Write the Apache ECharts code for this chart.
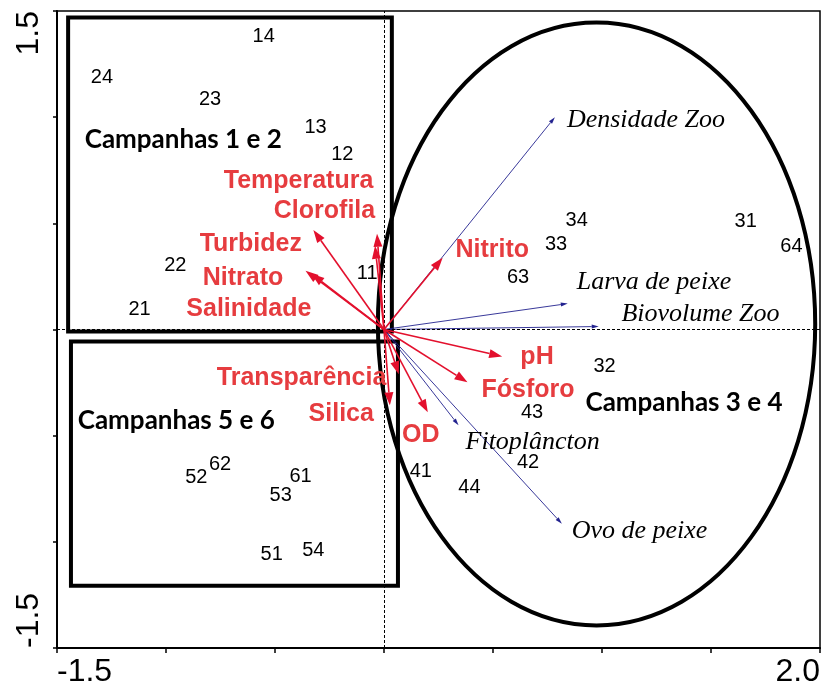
<!DOCTYPE html>
<html>
<head>
<meta charset="utf-8">
<script src="https://cdn.jsdelivr.net/npm/echarts@6/dist/echarts.min.js"></script>
<style>
html, body { margin: 0; padding: 0; background: #fff; }
#main { width: 823px; height: 688px; }
</style>
</head>
<body>
<div id="main"></div>
<script>
// amostras (scores)
var sampleNames = ['14', '24', '23', '13', '12', '22', '21', '11',
  '34', '31', '33', '64', '63', '32', '43', '42', '41', '44',
  '62', '52', '61', '53', '51', '54'];
var sampleX = [-0.552, -1.294, -0.798, -0.314, -0.191, -0.957, -1.121, -0.077,
  0.884, 1.659, 0.789, 1.869, 0.615, 1.012, 0.679, 0.661, 0.169, 0.392,
  -0.752, -0.861, -0.383, -0.474, -0.515, -0.324];
var sampleY = [1.380, 1.188, 1.085, 0.953, 0.822, 0.300, 0.094, 0.263,
  0.512, 0.507, 0.399, 0.390, 0.244, -0.174, -0.390, -0.624, -0.671, -0.746,
  -0.634, -0.695, -0.690, -0.784, -1.061, -1.042];

// variaveis ambientais (setas vermelhas)
var envNames = ['Turbidez', 'Temperatura', 'Clorofila', 'Nitrato', 'Salinidade', 'Nitrito',
  'pH', 'Fósforo', 'OD', 'Silica', 'Transparência'];
var envX = [-0.324, -0.032, -0.041, -0.360, -0.333, 0.269, 0.542, 0.383, 0.201, 0.027, 0.068];
var envY = [0.469, 0.451, 0.394, 0.277, 0.263, 0.338, -0.127, -0.249, -0.390, -0.357, -0.211];
var envLabelX = [-0.611, -0.392, -0.273, -0.647, -0.620, 0.497, 0.702, 0.661, 0.169, -0.196, -0.378];
var envLabelY = [0.404, 0.700, 0.559, 0.244, 0.094, 0.376, -0.131, -0.286, -0.498, -0.399, -0.230];

// variaveis biologicas (setas azuis)
var sppNames = ['Densidade Zoo', 'Larva de peixe', 'Biovolume Zoo', 'Fitoplâncton', 'Ovo de peixe'];
var sppX = [0.784, 0.843, 0.985, 0.342, 0.816];
var sppY = [1.000, 0.122, 0.014, -0.451, -0.915];
var sppLabelX = [0.839, 0.884, 1.089, 0.374, 0.861];
var sppLabelY = [0.986, 0.221, 0.070, -0.531, -0.948];

// grupos
var groupNames = ['Campanhas 1 e 2', 'Campanhas 5 e 6', 'Campanhas 3 e 4'];
var groupX = [-0.921, -0.953, 1.376];
var groupY = [0.892, -0.427, -0.343];
var boxX0 = [-1.449, -1.436];
var boxX1 = [0.036, 0.064];
var boxY0 = [-0.009, -1.207];
var boxY1 = [1.469, -0.056];
var ellipseCenter = [0.975, 0.026];
var ellipseRadius = [1.003, 1.420];

// rotulos dos eixos
var xLabelValues = [-1.5, 2.0];
var xLabelTexts = ['-1.5', '2.0'];
var yLabelValues = [-1.5, 1.5];
var yLabelTexts = ['-1.5', '1.5'];

function pick(values, texts) {
  return function (v) {
    for (var i = 0; i < values.length; i++) {
      if (Math.abs(values[i] - v) < 1e-6) return texts[i];
    }
    return '';
  };
}

function arrowItem(color, width, headLen, headW) {
  return function (params, api) {
    var o = api.coord([0, 0]);
    var t = api.coord([api.value(0), api.value(1)]);
    var dx = t[0] - o[0], dy = t[1] - o[1];
    var len = Math.sqrt(dx * dx + dy * dy);
    var ux = dx / len, uy = dy / len;
    var bx = t[0] - ux * headLen, by = t[1] - uy * headLen;
    return {
      type: 'group',
      children: [
        { type: 'line', shape: { x1: o[0], y1: o[1], x2: bx, y2: by },
          style: { stroke: color, lineWidth: width } },
        { type: 'polygon', shape: { points: [t, [bx - uy * headW / 2, by + ux * headW / 2], [bx + uy * headW / 2, by - ux * headW / 2]] },
          style: { fill: color } }
      ]
    };
  };
}

function zipData(names, xs, ys) {
  return names.map(function (n, i) { return { name: n, value: [xs[i], ys[i]] }; });
}

var myChart = echarts.init(document.getElementById('main'));

var option = {
  backgroundColor: '#fff',
  animation: false,
  grid: { left: 57, top: 11, width: 768, height: 639, show: true, borderColor: '#000', borderWidth: 1.5 },
  xAxis: {
    type: 'value', min: -1.5, max: 2.0, interval: 0.5,
    splitLine: { show: false },
    axisLine: { onZero: false, lineStyle: { color: '#000', width: 2 } },
    axisTick: { length: 5, lineStyle: { color: '#000', width: 1.5 } },
    axisLabel: {
      formatter: pick(xLabelValues, xLabelTexts),
      fontFamily: 'Liberation Sans', fontSize: 32, color: '#000', margin: 8,
      alignMinLabel: 'left', alignMaxLabel: 'right', showMinLabel: true, showMaxLabel: true
    }
  },
  yAxis: {
    type: 'value', min: -1.5, max: 1.5, interval: 0.5,
    splitLine: { show: false },
    axisLine: { onZero: false, lineStyle: { color: '#000', width: 2 } },
    axisTick: { length: 4, lineStyle: { color: '#000', width: 1.5 } },
    axisLabel: {
      formatter: pick(yLabelValues, yLabelTexts),
      fontFamily: 'Liberation Sans', fontSize: 32, color: '#000', margin: 12, rotate: 90,
      alignMinLabel: 'left', alignMaxLabel: 'right', showMinLabel: true, showMaxLabel: true
    }
  },
  series: [
    {
      // caixas
      type: 'custom', z: 3, silent: true,
      data: boxX0.map(function (v, i) { return [boxX0[i], boxY0[i], boxX1[i], boxY1[i]]; }),
      renderItem: function (params, api) {
        var a = api.coord([api.value(0), api.value(3)]);
        var b = api.coord([api.value(2), api.value(1)]);
        return { type: 'rect', shape: { x: a[0], y: a[1], width: b[0] - a[0], height: b[1] - a[1] },
          style: { fill: null, stroke: '#000', lineWidth: 4 } };
      }
    },
    {
      // elipse
      type: 'custom', z: 3, silent: true,
      data: [[ellipseCenter[0], ellipseCenter[1], ellipseRadius[0], ellipseRadius[1]]],
      renderItem: function (params, api) {
        var c = api.coord([api.value(0), api.value(1)]);
        var s = api.size([api.value(2), api.value(3)]);
        return { type: 'ellipse', shape: { cx: c[0], cy: c[1], rx: s[0], ry: s[1] },
          style: { fill: null, stroke: '#000', lineWidth: 4 } };
      }
    },
    {
      type: 'custom', z: 4, silent: true,
      data: sppX.map(function (v, i) { return [sppX[i], sppY[i]]; }),
      renderItem: arrowItem('#23238f', 0.9, 7, 4)
    },
    {
      type: 'custom', z: 5, silent: true,
      data: envX.map(function (v, i) { return [envX[i], envY[i]]; }),
      renderItem: arrowItem('#e3102d', 1.6, 13, 9)
    },
    {
      type: 'scatter', z: 6, symbolSize: 0, silent: true, itemStyle: { opacity: 1 },
      data: zipData(sampleNames, sampleX, sampleY),
      label: { show: true, position: 'inside', formatter: '{b}', color: '#000',
        fontFamily: 'Liberation Sans', fontSize: 20 },
      markLine: {
        silent: true, symbol: 'none', label: { show: false },
        lineStyle: { color: '#000', type: [3, 2], width: 1 },
        data: [{ xAxis: 0 }, { yAxis: 0 }]
      }
    },
    {
      type: 'scatter', z: 6, symbolSize: 0, silent: true, itemStyle: { opacity: 1 },
      data: zipData(envNames, envLabelX, envLabelY),
      label: { show: true, position: 'inside', formatter: '{b}', color: '#e63c3f',
        fontFamily: 'Liberation Sans', fontWeight: 'bold', fontSize: 25 }
    },
    {
      type: 'scatter', z: 6, symbolSize: 0, silent: true, itemStyle: { opacity: 1 },
      data: zipData(sppNames, sppLabelX, sppLabelY),
      label: { show: true, position: 'right', distance: 0, formatter: '{b}', color: '#000',
        fontFamily: 'Liberation Serif', fontStyle: 'italic', fontSize: 26 }
    },
    {
      type: 'scatter', z: 6, symbolSize: 0, silent: true, itemStyle: { opacity: 1 },
      data: zipData(groupNames, groupX, groupY),
      label: { show: true, position: 'inside', formatter: '{b}', color: '#000',
        fontFamily: 'Lato', fontWeight: 'bold', fontSize: 26 }
    }
  ]
};

myChart.setOption(option);
</script>
</body>
</html>
